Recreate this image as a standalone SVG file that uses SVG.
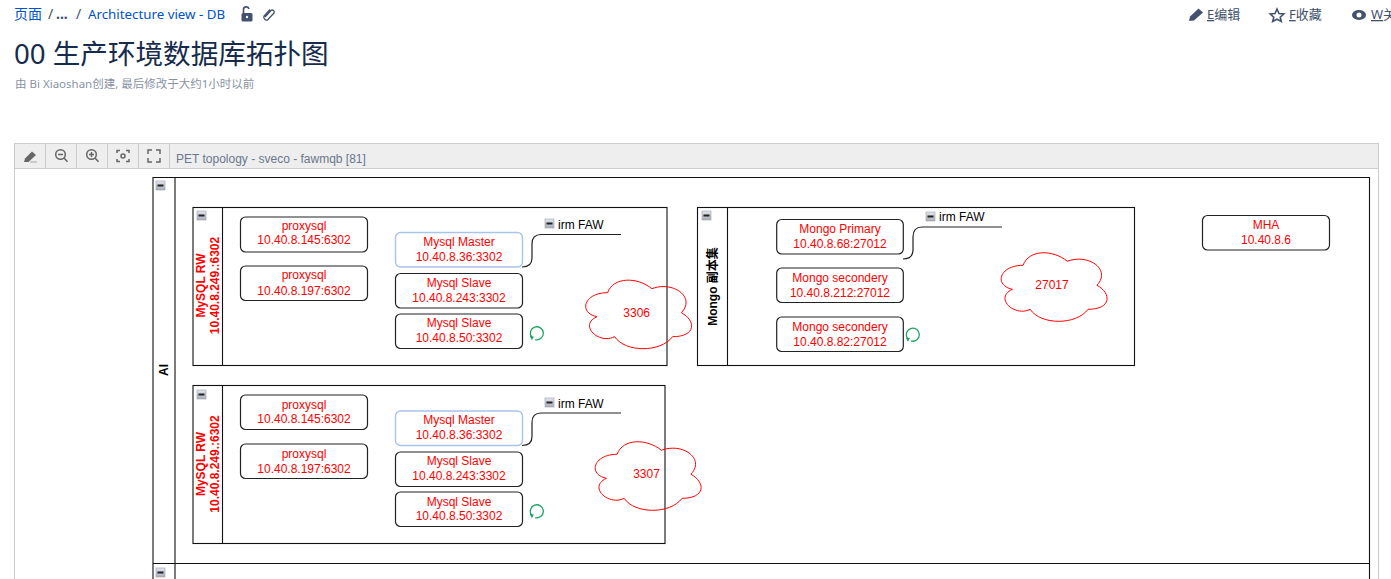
<svg xmlns="http://www.w3.org/2000/svg" width="1391" height="579" viewBox="0 0 1391 579">
<style>
text{font-family:"Liberation Sans","Noto Sans CJK SC",sans-serif}
.n{fill:#fff;stroke:#222;stroke-width:1.2}
.m{fill:#fff;stroke:#a9c4eb;stroke-width:1.4}
.l{fill:#f00;font-size:12px;text-anchor:middle}
.g{fill:none;stroke:#111;stroke-width:1.1}
.v{font-size:12px;font-weight:bold;text-anchor:middle}
.c{fill:none;stroke:#f00;stroke-width:1}
.k{fill:none;stroke:#222;stroke-width:1.2}
.t{font-size:12px;fill:#000}
.ic{fill:none;stroke:#42526e;stroke-width:1.6}
.tb{fill:none;stroke:#666;stroke-width:1.5}
.r{fill:none;stroke:#1fa463;stroke-width:1.3}
.bar{fill:#eee;stroke:#ccc}
.h{font-family:"Noto Sans","Noto Sans CJK SC",sans-serif}
</style>
<defs>
<linearGradient id="cg" x1="0" y1="0" x2="0" y2="1"><stop offset="0" stop-color="#e4e7ee"/><stop offset="1" stop-color="#a9adb8"/></linearGradient>
<g id="col"><rect x="0" y="0" width="9" height="9" fill="url(#cg)" stroke="#9a9ea8" stroke-width=".6"/><rect x="1.5" y="3.5" width="6" height="2" fill="#222"/></g>
<path id="cloud" d="M30 20C6 20 0 40 19.2 44C0 52.8 21.6 72 37.2 64C48 80 84 80 96 64C120 64 120 48 105 40C120 24 96 8 75 16C60 4 36 4 30 20Z"/>
<g id="ref"><path class="r" d="M-5 4A6.500 6.500 0 1 1 -1.500 6.300"/><path d="M-7 2.800L-2.800 3.200L-4.800 7Z" fill="#1fa463"/></g>
</defs>

<g id="page-header">
<text class="h" x="14" y="19" font-size="14" fill="#0052cc">页面</text>
<text class="h" x="48" y="19" font-size="14" fill="#42526e">/</text>
<text class="h" x="56" y="19" font-size="14" font-weight="bold" fill="#42526e">...</text>
<text class="h" x="76" y="19" font-size="14" fill="#42526e">/</text>
<text class="h" x="88" y="19" font-size="13.300" fill="#0052cc">Architecture view - DB</text>
<g id="lock"><rect x="241.500" y="13" width="11" height="8.500" rx="1.500" fill="#42526e"/><path d="M243.500 13V10A2.800 2.800 0 0 1 249 9" fill="none" stroke="#42526e" stroke-width="1.600"/><circle cx="247" cy="17" r="1.200" fill="#fff"/></g>
<g id="clip"><path d="M265 17L271 10.500A2 2 0 0 1 274 13L267.500 20A3 3 0 0 1 264 16L270 9.500" fill="none" stroke="#42526e" stroke-width="1.300"/></g>
<text class="h" x="14" y="64" font-size="27.600" fill="#172b4d">00 生产环境数据库拓扑图</text>
<text class="h" x="15" y="88" font-size="11.500" fill="#8993a4">由 Bi Xiaoshan创建, 最后修改于大约1小时以前</text>
<g id="edit"><path d="M1189 21L1190 16.500L1198.500 8.500L1203 12.500L1194 20.500Z" fill="#42526e"/><text class="h" x="1207" y="19" font-size="13" fill="#42526e"><tspan text-decoration="underline">E</tspan>编辑</text></g>
<g id="fav"><path class="ic" d="M1277 9L1279 13.600L1283.800 14L1280.200 17.200L1281.300 21.500L1277 19.200L1272.700 21.500L1273.800 17.200L1270.200 14L1275 13.600Z"/><text class="h" x="1289" y="19" font-size="13" fill="#42526e"><tspan text-decoration="underline">F</tspan>收藏</text></g>
<g id="watch"><ellipse cx="1359" cy="15" rx="7" ry="5" fill="#42526e"/><circle cx="1359" cy="15" r="2.500" fill="#fff"/><text class="h" x="1371" y="19" font-size="13" fill="#42526e"><tspan text-decoration="underline">W</tspan>关</text></g>
</g>

<g id="viewer-frame">
<rect x="14.500" y="143.500" width="1364" height="25" class="bar"/>
<path d="M14.500 168.500V579M1378.500 168.500V579M45.500 143.500V168.500M76.500 143.500V168.500M107.500 143.500V168.500M138.500 143.500V168.500M169.500 143.500V168.500" fill="none" stroke="#ccc"/>
<g id="tb-edit"><path d="M24 162L25 158.500L32 151.500L36 155L28.500 162Z" fill="#666"/><path d="M30 162H37" stroke="#a0a6b2"/></g>
<g id="tb-zoomout"><circle cx="60.500" cy="154.500" r="4.800" class="tb"/><path d="M64 158L67.500 161.800M58 154.500H63" class="tb"/></g>
<g id="tb-zoomin"><circle cx="91.500" cy="154.500" r="4.800" class="tb"/><path d="M95 158L98.500 161.800M89 154.500H94M91.500 152V157" class="tb"/></g>
<g id="tb-fit"><circle cx="123" cy="156" r="2" class="tb"/><path d="M117 153V150.500H120M126 150.500H129V153M129 159V161.500H126M120 161.500H117V159" class="tb"/></g>
<g id="tb-full"><path d="M148 154V150H152M156 150H160V154M160 158V162H156M152 162H148V158" class="tb"/></g>
<text x="176" y="163" font-size="12" fill="#6b778c">PET topology - sveco - fawmqb [81]</text>
</g>

<g id="lane-ai">
<path class="g" d="M153 579V177.500H1369.500V579M175 177.500V579M153 563.500H1369.500"/>
<use href="#col" x="156" y="181"/>
<text class="v" transform="translate(168 370) rotate(-90)">AI</text>
<use href="#col" x="156" y="568"/>
</g>

<g id="group-mysql-1">
<rect x="193" y="207.500" width="474" height="158" class="g"/><path class="g" d="M222.500 207.500V365.500"/>
<use href="#col" x="197" y="211"/>
<text class="v" fill="#f00" transform="translate(205 285.500) rotate(-90)">MySQL RW</text>
<text class="v" fill="#f00" transform="translate(219 285.500) rotate(-90)">10.40.8.249.:6302</text>
</g>
<g id="group-mysql-2">
<rect x="193" y="385.500" width="472" height="158" class="g"/><path class="g" d="M222.500 385.500V543.500"/>
<use href="#col" x="197" y="390"/>
<text class="v" fill="#f00" transform="translate(205 464) rotate(-90)">MySQL RW</text>
<text class="v" fill="#f00" transform="translate(219 464) rotate(-90)">10.40.8.249.:6302</text>
</g>
<g id="group-mongo">
<rect x="697.500" y="207.500" width="437" height="158" class="g"/><path class="g" d="M727.500 207.500V365.500"/>
<use href="#col" x="702" y="211"/>
<text class="v" fill="#000" transform="translate(717 286.500) rotate(-90)">Mongo 副本集</text>
</g>

<g id="connectors">
<path class="k" d="M522 267C530 267 532 263 532 258V244C532 238 535 234.500 541 234.500H621"/>
<path class="k" d="M522 445.500C530 445.500 532 441 532 436.500V422.500C532 416.500 535 413 541 413H621"/>
<path class="k" d="M903 259C911 259 913 255 913 250V237C913 231 916 227 922 227H1002"/>
</g>

<g id="n1"><rect class="n" x="240.500" y="217" width="127" height="35" rx="5"/><text class="l" x="304" y="230">proxysql</text><text class="l" x="304" y="244">10.40.8.145:6302</text></g>
<g id="n2"><rect class="n" x="240.500" y="266" width="127" height="34.500" rx="5"/><text class="l" x="304" y="279">proxysql</text><text class="l" x="304" y="295">10.40.8.197:6302</text></g>
<g id="n3"><rect class="m" x="395.500" y="232.500" width="127" height="34.500" rx="5"/><text class="l" x="459" y="246">Mysql Master</text><text class="l" x="459" y="261">10.40.8.36:3302</text></g>
<g id="n4"><rect class="n" x="395.500" y="273.500" width="127" height="34.500" rx="5"/><text class="l" x="459" y="287">Mysql Slave</text><text class="l" x="459" y="302">10.40.8.243:3302</text></g>
<g id="n5"><rect class="n" x="395.500" y="314" width="127" height="34.500" rx="5"/><text class="l" x="459" y="327">Mysql Slave</text><text class="l" x="459" y="342">10.40.8.50:3302</text></g>
<g id="n6"><text class="t" x="558" y="229">irm FAW</text><use href="#col" x="545" y="219"/></g>
<g id="n7"><use href="#ref" x="536.700" y="333.300"/></g>
<g id="n8"><use href="#cloud" transform="translate(578 272.700) scale(.985 1)" class="c"/><text class="l" x="636.700" y="317">3306</text></g>

<g id="n9"><rect class="n" x="240.500" y="395" width="127" height="34.500" rx="5"/><text class="l" x="304" y="409">proxysql</text><text class="l" x="304" y="423">10.40.8.145:6302</text></g>
<g id="n10"><rect class="n" x="240.500" y="444" width="127" height="34.500" rx="5"/><text class="l" x="304" y="458">proxysql</text><text class="l" x="304" y="473">10.40.8.197:6302</text></g>
<g id="n11"><rect class="m" x="395.500" y="411" width="127" height="34.500" rx="5"/><text class="l" x="459" y="424">Mysql Master</text><text class="l" x="459" y="439">10.40.8.36:3302</text></g>
<g id="n12"><rect class="n" x="395.500" y="452" width="127" height="34.500" rx="5"/><text class="l" x="459" y="465">Mysql Slave</text><text class="l" x="459" y="480">10.40.8.243:3302</text></g>
<g id="n13"><rect class="n" x="395.500" y="492" width="127" height="34.500" rx="5"/><text class="l" x="459" y="506">Mysql Slave</text><text class="l" x="459" y="520">10.40.8.50:3302</text></g>
<g id="n14"><text class="t" x="558" y="408">irm FAW</text><use href="#col" x="545" y="398"/></g>
<g id="n15"><use href="#ref" x="536.700" y="511.300"/></g>
<g id="n16"><use href="#cloud" transform="translate(587.500 434.300) scale(.985 1)" class="c"/><text class="l" x="646.500" y="478">3307</text></g>

<g id="n17"><rect class="n" x="776.700" y="219.500" width="126.600" height="34.500" rx="5"/><text class="l" x="840" y="233">Mongo Primary</text><text class="l" x="840" y="248">10.40.8.68:27012</text></g>
<g id="n18"><rect class="n" x="776.700" y="268" width="126.600" height="34.500" rx="5"/><text class="l" x="840" y="282">Mongo secondery</text><text class="l" x="840" y="297">10.40.8.212:27012</text></g>
<g id="n19"><rect class="n" x="776.700" y="317" width="126.600" height="34.500" rx="5"/><text class="l" x="840" y="331">Mongo secondery</text><text class="l" x="840" y="346">10.40.8.82:27012</text></g>
<g id="n20"><text class="t" x="939" y="221">irm FAW</text><use href="#col" x="926" y="212"/></g>
<g id="n21"><use href="#ref" x="912.700" y="334.700"/></g>
<g id="n22"><use href="#cloud" transform="translate(993.500 245.300) scale(.985 1)" class="c"/><text class="l" x="1052" y="289">27017</text></g>
<g id="n23"><rect class="n" x="1202.500" y="215.500" width="127" height="34.500" rx="5"/><text class="l" x="1266" y="229">MHA</text><text class="l" x="1266" y="244">10.40.8.6</text></g>
</svg>
